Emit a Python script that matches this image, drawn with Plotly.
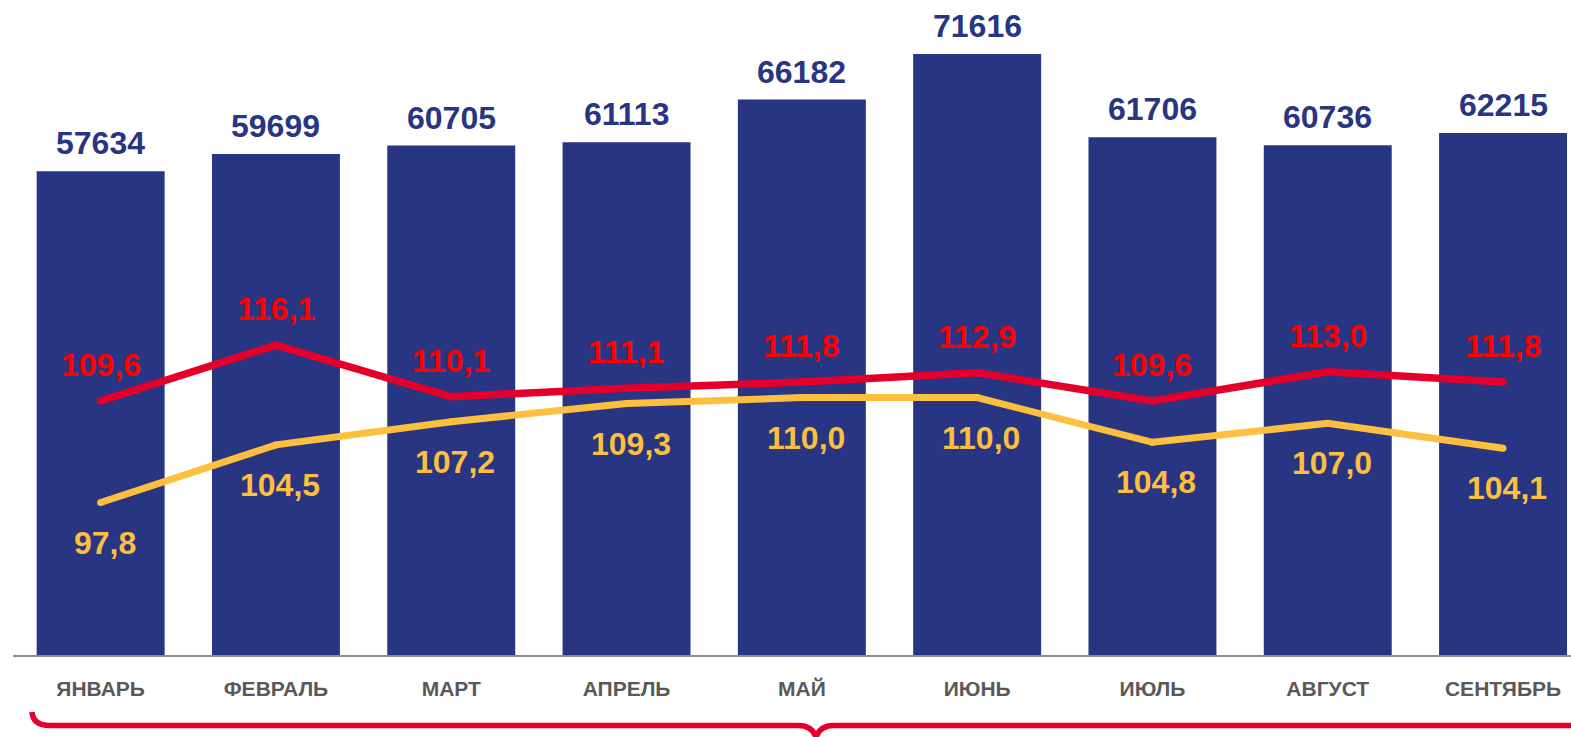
import plotly.graph_objects as go

months = ["ЯНВАРЬ", "ФЕВРАЛЬ", "МАРТ", "АПРЕЛЬ", "МАЙ", "ИЮНЬ", "ИЮЛЬ", "АВГУСТ", "СЕНТЯБРЬ"]
bar_values = [57634, 59699, 60705, 61113, 66182, 71616, 61706, 60736, 62215]
red_values = [109.6, 116.1, 110.1, 111.1, 111.8, 112.9, 109.6, 113.0, 111.8]
yellow_values = [97.8, 104.5, 107.2, 109.3, 110.0, 110.0, 104.8, 107.0, 104.1]

NAVY = "#283583"
RED_LINE = "#E4002B"
RED_TEXT = "#FF0000"
YELLOW = "#FCBF3E"
GREY = "#595959"
FONT = "Arial, Liberation Sans, sans-serif"

W, H = 1571, 737
L, R, T, B = 13, 0, 0, 82
plot_w = W - L - R
plot_h = H - T - B


def fmt(v):
    return f"{v:.1f}".replace(".", ",")


fig = go.Figure()
fig.add_trace(go.Bar(
    x=months, y=bar_values, marker=dict(color=NAVY, line=dict(width=0)),
    yaxis="y", showlegend=False, hoverinfo="skip",
))
fig.add_trace(go.Scatter(
    x=months, y=red_values, mode="lines+markers", yaxis="y2",
    line=dict(color=RED_LINE, width=7.5), marker=dict(color=RED_LINE, size=7.5),
    showlegend=False, hoverinfo="skip",
))
fig.add_trace(go.Scatter(
    x=months, y=yellow_values, mode="lines+markers", yaxis="y2",
    line=dict(color=YELLOW, width=7), marker=dict(color=YELLOW, size=7),
    showlegend=False, hoverinfo="skip",
))

annotations = []
for m, v in zip(months, bar_values):
    annotations.append(dict(x=m, y=v, xref="x", yref="y", text=f"<b>{v}</b>",
                            showarrow=False, yshift=28, yanchor="middle",
                            font=dict(family=FONT, size=32, color=NAVY)))
for m, v in zip(months, red_values):
    annotations.append(dict(x=m, y=v, xref="x", yref="y2", text=f"<b>{fmt(v)}</b>",
                            showarrow=False, yshift=36, yanchor="middle",
                            font=dict(family=FONT, size=32, color=RED_TEXT)))
for m, v in zip(months, yellow_values):
    annotations.append(dict(x=m, y=v, xref="x", yref="y2", text=f"<b>{fmt(v)}</b>",
                            showarrow=False, yshift=-40, yanchor="middle", xshift=4,
                            font=dict(family=FONT, size=32, color=YELLOW)))


def px(xp, yp):
    return (xp - L) / plot_w, (T + plot_h - yp) / plot_h


def P(xp, yp):
    a, b = px(xp, yp)
    return f"{a:.5f},{b:.5f}"


brace = (f"M {P(32, 712)} Q {P(33, 725.5)} {P(50, 725.5)} L {P(798, 725.5)} "
         f"Q {P(812, 725.5)} {P(816, 737)} Q {P(820, 725.5)} {P(834, 725.5)} "
         f"L {P(1580, 725.5)}")

fig.update_layout(
    width=W, height=H,
    margin=dict(l=L, r=R, t=T, b=B, pad=0),
    paper_bgcolor="white", plot_bgcolor="white",
    bargap=0.27,
    xaxis=dict(
        type="category", range=[-0.5, (W - L) / 175.3 - 0.5],
        showline=True, linecolor="#8C8C8C", linewidth=1.5,
        showgrid=False, zeroline=False, ticks="",
        ticklabelstandoff=14,
        tickfont=dict(family=FONT, size=21, color=GREY),
        tickprefix="<b>", ticksuffix="</b>",
    ),
    yaxis=dict(range=[0, 78051], visible=False, showgrid=False, zeroline=False),
    yaxis2=dict(range=[80.07, 156.23], overlaying="y", visible=False,
                showgrid=False, zeroline=False),
    annotations=annotations,
    shapes=[dict(type="path", xref="paper", yref="paper", path=brace,
                 line=dict(color=RED_LINE, width=5.5))],
    showlegend=False,
)

fig.write_html("out.html", config={"displayModeBar": False})

with open("out.html", "r", encoding="utf-8") as f:
    html = f.read()
html = html.replace("<head>", "<head><style>html,body{margin:0;padding:0;overflow:hidden;}</style>", 1)
with open("out.html", "w", encoding="utf-8") as f:
    f.write(html)
